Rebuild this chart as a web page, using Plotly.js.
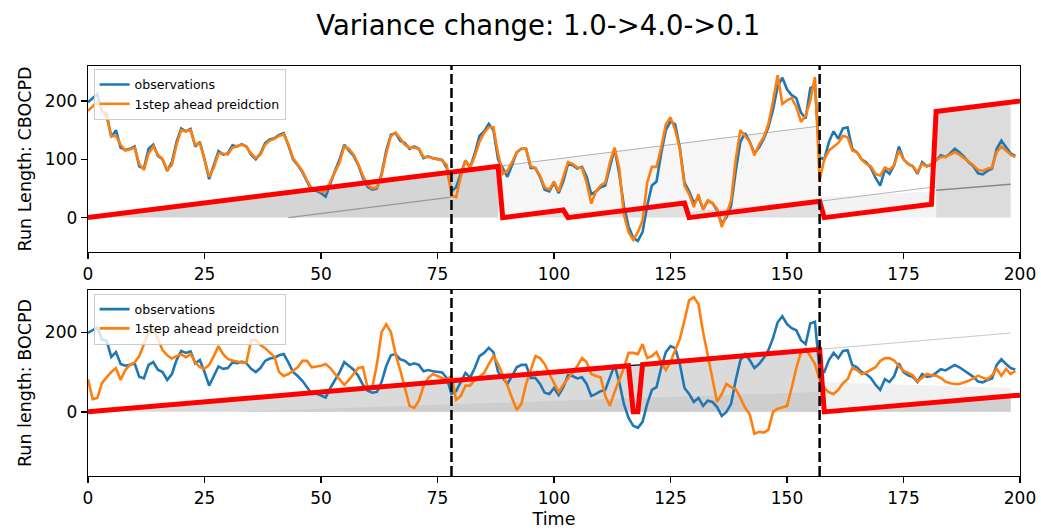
<!DOCTYPE html>
<html>
<head>
<meta charset="utf-8">
<script src="https://cdn.plot.ly/plotly-3.0.1.min.js"></script>
<style>html,body{margin:0;padding:0;background:#fff;}#chart{width:1041px;height:532px;}</style>
</head>
<body>
<div id="chart"></div>
<script>
// ---------------- data ----------------
const titleText = "Variance change: 1.0->4.0->0.1";
const changePoints = [78, 157];
const xTicks = [0, 25, 50, 75, 100, 125, 150, 175, 200];

// observations (same series in both panels), t = 0..199
const observations = [
 198,205,212,182,178,138,150,120,116,118,
 122,88,84,118,125,106,100,80,95,130,
 153,148,152,122,130,100,66,90,114,108,
 110,124,122,126,122,108,100,110,128,134,
 136,142,145,124,100,90,78,62,46,46,
 42,36,60,80,100,125,115,106,90,68,
 53,48,50,75,115,142,145,132,128,118,
 122,118,102,105,102,100,99,85,45,52,
 75,98,86,110,140,148,161,150,100,85,
 70,90,112,118,118,85,85,70,48,45,
 60,42,62,92,90,84,87,70,40,45,
 52,55,85,118,75,20,-15,-35,-40,-25,
 20,55,62,110,150,165,160,120,60,45,
 25,35,15,28,25,12,-10,0,20,80,
 130,145,130,110,120,135,155,185,225,240,
 220,210,205,180,170,222,226,103,100,130,
 148,135,153,155,118,112,100,95,85,68,
 55,82,75,90,122,100,92,88,75,95,
 88,90,98,107,104,110,118,112,104,95,
 88,76,74,80,84,118,132,120,110,106
];

// 1-step ahead prediction, CBOCPD (top panel)
const predCBOCPD = [
 183,190,198,185,172,140,140,125,115,117,
 120,92,82,110,122,108,100,82,90,125,
 150,148,150,125,128,100,70,86,110,110,
 108,120,122,125,122,110,102,108,125,132,
 135,140,143,126,102,90,80,64,50,48,
 45,45,62,78,95,122,118,108,92,72,
 56,50,52,72,110,140,146,136,125,120,
 120,118,104,104,102,100,98,90,38,35,
 70,98,85,105,130,145,155,155,110,75,
 80,95,112,118,118,88,85,72,52,48,
 62,45,72,95,92,86,85,60,24,45,
 55,60,95,120,85,5,-25,-38,-25,-5,
 60,87,87,120,160,172,150,118,55,40,
 18,40,13,30,25,15,-16,5,30,100,
 150,140,130,107,125,138,160,200,244,195,
 201,205,190,164,175,200,241,64,100,115,
 122,128,140,138,115,112,100,92,88,75,
 72,86,82,90,115,100,92,88,78,92,
 88,92,98,104,104,108,112,108,102,95,
 90,82,80,84,86,112,122,115,108,104
];

// 1-step ahead prediction, BOCPD (bottom panel)
const predBOCPD = [
 82,32,35,72,87,100,110,80,105,118,
 124,140,170,200,210,180,155,142,134,140,
 145,137,145,125,112,108,118,140,165,145,
 133,129,126,124,124,180,180,168,160,148,
 138,100,90,95,104,112,128,128,112,114,
 116,120,110,95,80,68,80,95,110,112,
 60,60,120,200,220,200,145,105,60,15,
 10,28,65,85,95,90,85,80,91,30,
 40,66,66,80,88,98,120,140,120,95,
 66,35,5,20,70,105,140,135,120,95,
 72,50,68,85,99,115,135,125,95,90,
 87,40,15,50,80,110,148,148,145,170,
 135,140,150,125,105,125,155,183,230,280,
 288,270,200,140,80,25,45,70,62,57,
 35,10,-6,-55,-50,-52,-45,0,8,11,
 15,60,110,150,158,140,120,80,60,49,
 45,55,72,82,110,105,95,99,105,112,
 128,135,135,129,115,103,98,92,76,85,
 95,92,91,85,76,72,70,70,74,78,
 84,91,86,82,92,108,91,108,95,103
];

// most probable run length (red) – breakpoints
const runTopT = [0, 88, 89, 102, 103, 128, 129, 157, 158, 181, 182, 200];
const runTopR = [0, 88, 0, 13, 0, 25, 0, 28, 0, 23, 182, 200];
const runBotT = [0, 116, 117, 118, 119, 157, 158, 200];
const runBotR = [0, 116, 0, 0, 119, 157, 0, 42];

// run-length posterior (grey background), polygons in (time, run length)
const postTopDarkT  = [0, 88, 88, 0];
const postTopDarkR  = [0, 88, 0, 0];
const postTopPaleT  = [88, 88, 157, 157];
const postTopPaleR  = [0, 88, 157, 0];
const postTopBandT  = [89, 102, 103, 128, 129, 157, 157, 89];
const postTopBandR  = [0, 13, 8, 25, 10, 30, 0, 0];
const postTopMidT   = [157, 157, 182, 182];
const postTopMidR   = [0, 35, 45, 0];
const postTopLateT  = [182, 182, 198, 198];
const postTopLateR  = [0, 182, 198, 0];
const postTopDiagT  = [88, 157];
const postTopDiagR  = [88, 157];
const postTopRunT   = [157, 182];
const postTopRunR   = [28, 53];
const postTopOldT   = [43, 78];
const postTopOldR   = [0, 35];
const postTopLineT  = [182, 198];
const postTopLineR  = [47, 57];

const postBotMainT  = [0, 157, 157, 0];
const postBotMainR  = [0, 157, 0, 0];
const postBotLowT   = [30, 157, 157];
const postBotLowR   = [0, 0, 50];
const postBotPaleT  = [157, 157, 198, 198];
const postBotPaleR  = [0, 75, 60, 0];
const postBotLateT  = [158, 198, 198, 158];
const postBotLateR  = [0, 40, 0, 0];
const postBotDiagT  = [157, 198];
const postBotDiagR  = [157, 198];
const postBotDipT   = [116, 120];
const postBotDipR   = [116, 119];

// ---------------- drawing ----------------
const tIdx = observations.map((_, i) => i);
const BLUE = '#1f77b4', ORANGE = '#ff7f0e', RED = '#ff0000';

function poly(x, y, color, xa, ya) {
  return {x: x, y: y, xaxis: xa, yaxis: ya, type: 'scatter', mode: 'lines',
    fill: 'toself', fillcolor: color, line: {width: 0, color: color},
    hoverinfo: 'skip', showlegend: false};
}
function thin(x, y, color, w, xa, ya) {
  return {x: x, y: y, xaxis: xa, yaxis: ya, type: 'scatter', mode: 'lines',
    line: {width: w, color: color}, hoverinfo: 'skip', showlegend: false};
}

const traces = [
  // top background
  poly(postTopPaleT, postTopPaleR, '#f6f6f6', 'x', 'y'),
  poly(postTopDarkT, postTopDarkR, '#d5d5d5', 'x', 'y'),
  poly(postTopBandT, postTopBandR, '#e0e0e0', 'x', 'y'),
  poly(postTopMidT, postTopMidR, '#f3f3f3', 'x', 'y'),
  poly(postTopLateT, postTopLateR, '#dcdcdc', 'x', 'y'),
  thin(postTopDiagT, postTopDiagR, '#b0b0b0', 1, 'x', 'y'),
  thin(postTopRunT, postTopRunR, '#b4b4b4', 1, 'x', 'y'),
  thin(postTopOldT, postTopOldR, '#999999', 1.3, 'x', 'y'),
  thin(postTopLineT, postTopLineR, '#8a8a8a', 1.5, 'x', 'y'),
  // bottom background
  poly(postBotMainT, postBotMainR, '#dadada', 'x2', 'y2'),
  poly(postBotLowT, postBotLowR, '#cecece', 'x2', 'y2'),
  poly(postBotPaleT, postBotPaleR, '#f0f0f0', 'x2', 'y2'),
  poly(postBotLateT, postBotLateR, '#d0d0d0', 'x2', 'y2'),
  thin(postBotDiagT, postBotDiagR, '#c8c8c8', 1, 'x2', 'y2'),
  thin(postBotDipT, postBotDipR, '#000000', 1.2, 'x2', 'y2'),
  // top lines
  {x: tIdx, y: observations, xaxis: 'x', yaxis: 'y', type: 'scatter', mode: 'lines',
   name: 'observations', line: {color: BLUE, width: 2.6}, legend: 'legend'},
  {x: tIdx, y: predCBOCPD, xaxis: 'x', yaxis: 'y', type: 'scatter', mode: 'lines',
   name: '1step ahead preidction', line: {color: ORANGE, width: 2.6}, legend: 'legend'},
  {x: runTopT, y: runTopR, xaxis: 'x', yaxis: 'y', type: 'scatter', mode: 'lines',
   line: {color: RED, width: 5}, showlegend: false},
  // bottom lines
  {x: tIdx, y: observations, xaxis: 'x2', yaxis: 'y2', type: 'scatter', mode: 'lines',
   name: 'observations', line: {color: BLUE, width: 2.6}, legend: 'legend2'},
  {x: tIdx, y: predBOCPD, xaxis: 'x2', yaxis: 'y2', type: 'scatter', mode: 'lines',
   name: '1step ahead preidction', line: {color: ORANGE, width: 2.6}, legend: 'legend2'},
  {x: runBotT, y: runBotR, xaxis: 'x2', yaxis: 'y2', type: 'scatter', mode: 'lines',
   line: {color: RED, width: 5}, showlegend: false}
];

const shapes = [];
changePoints.forEach(cp => {
  [['x', 'y domain'], ['x2', 'y2 domain']].forEach(([xr, yr]) => {
    shapes.push({type: 'line', xref: xr, yref: yr, x0: cp, x1: cp, y0: 0, y1: 1,
      line: {color: '#000', width: 2.5, dash: '10px,4px'}});
  });
});

const FONT = 'DejaVu Sans, sans-serif';
const axisCommon = {
  showline: true, linecolor: '#000', linewidth: 1.3, mirror: true,
  ticks: 'outside', ticklen: 6, tickwidth: 1.3, tickcolor: '#000',
  showgrid: false, zeroline: false,
  tickfont: {family: FONT, size: 17, color: '#000'}
};
const legendCommon = {
  x: 0.006, xanchor: 'left', yanchor: 'top',
  bgcolor: 'rgba(255,255,255,0.8)', bordercolor: '#cccccc', borderwidth: 1,
  font: {family: FONT, size: 12.5, color: '#000'},
  tracegroupgap: 0, itemwidth: 30
};

const layout = {
  width: 1041, height: 532,
  paper_bgcolor: '#fff', plot_bgcolor: '#fff',
  margin: {l: 88, r: 21, t: 66, b: 56},
  font: {family: FONT, color: '#000'},
  title: {text: titleText, font: {family: FONT, size: 27.5, color: '#000'},
          x: 0.517, xref: 'container', y: 0.953, yref: 'container', yanchor: 'middle', xanchor: 'center'},
  xaxis: Object.assign({}, axisCommon, {domain: [0, 1], range: [0, 200], anchor: 'y', tickvals: xTicks}),
  yaxis: Object.assign({}, axisCommon, {domain: [0.5463, 1], range: [-59, 260], anchor: 'x',
          tickvals: [0, 100, 200],
          title: {text: 'Run Length: CBOCPD', font: {family: FONT, size: 17.5, color: '#000'}, standoff: 8}}),
  xaxis2: Object.assign({}, axisCommon, {domain: [0, 1], range: [0, 200], anchor: 'y2', tickvals: xTicks,
          title: {text: 'Time', font: {family: FONT, size: 17.5, color: '#000'}, standoff: 6}}),
  yaxis2: Object.assign({}, axisCommon, {domain: [0, 0.4537], range: [-161, 306], anchor: 'x2',
          tickvals: [0, 200],
          title: {text: 'Run length: BOCPD', font: {family: FONT, size: 17.5, color: '#000'}, standoff: 8}}),
  legend: Object.assign({}, legendCommon, {y: 0.993}),
  legend2: Object.assign({}, legendCommon, {y: 0.445}),
  shapes: shapes,
  showlegend: true
};

Plotly.newPlot('chart', traces, layout, {displayModeBar: false, staticPlot: true});
</script>
</body>
</html>
